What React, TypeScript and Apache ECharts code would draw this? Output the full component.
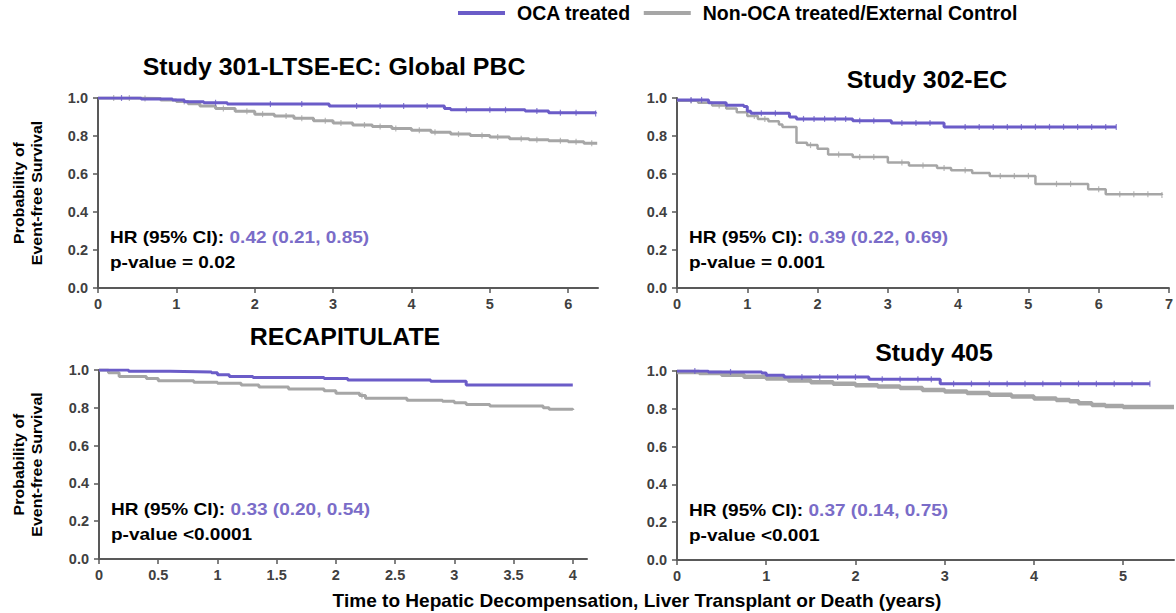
import React, { useEffect, useRef } from "react";
import * as echarts from "echarts";

const PURPLE = "#6B5CC8";
const PURPLE_TEXT = "#7A6CC8";
const GRAY = "#A6A6A6";
const AXIS = "#595959";
const LABEL = "#404040";
const FONT = "'Liberation Sans', Arial, sans-serif";

const seriesNames = ["OCA treated", "Non-OCA treated/External Control"];
const panelTitles = ["Study 301-LTSE-EC: Global PBC", "Study 302-EC", "RECAPITULATE", "Study 405"];
const hrValues = ["0.42 (0.21, 0.85)", "0.39 (0.22, 0.69)", "0.33 (0.20, 0.54)", "0.37 (0.14, 0.75)"];
const pValues = ["p-value = 0.02", "p-value = 0.001", "p-value <0.0001", "p-value <0.001"];
const xMax = [6.38, 7, 4.12, 5.57];
const xTicks = [
  [0, 1, 2, 3, 4, 5, 6],
  [0, 1, 2, 3, 4, 5, 6, 7],
  [0, 0.5, 1, 1.5, 2, 2.5, 3, 3.5, 4],
  [0, 1, 2, 3, 4, 5],
];
const yTicks = [0, 0.2, 0.4, 0.6, 0.8, 1.0];
const xAxisTitle = "Time to Hepatic Decompensation, Liver Transplant or Death (years)";
const yAxisTitle = "Probability of\nEvent-free Survival";

// Kaplan-Meier step curves: [time, survival after drop]
const s301Oca: [number, number][] = [
  [0, 1], [0.55, 0.995], [0.95, 0.99], [1.1, 0.98], [1.35, 0.975], [1.65, 0.968],
  [2.95, 0.958], [4.42, 0.945], [4.5, 0.938], [5.45, 0.932], [5.75, 0.922], [6.35, 0.918],
];
const s301Ctrl: [number, number][] = [
  [0, 1], [0.5, 0.998], [0.8, 0.99], [1.0, 0.982], [1.15, 0.97], [1.3, 0.958], [1.5, 0.945],
  [1.75, 0.93], [2.0, 0.915], [2.25, 0.905], [2.5, 0.893], [2.75, 0.88], [3.0, 0.868],
  [3.25, 0.858], [3.5, 0.85], [3.75, 0.84], [4.0, 0.83], [4.25, 0.82], [4.5, 0.81],
  [4.75, 0.803], [5.0, 0.795], [5.25, 0.786], [5.5, 0.78], [5.75, 0.775], [6.0, 0.77],
  [6.2, 0.762], [6.37, 0.76],
];
const s302Oca: [number, number][] = [
  [0, 0.99], [0.45, 0.975], [0.7, 0.962], [0.95, 0.955], [1.0, 0.93], [1.05, 0.92],
  [1.6, 0.9], [1.7, 0.89], [2.5, 0.88], [3.05, 0.868], [3.8, 0.848], [6.25, 0.848],
];
const s302Ctrl: [number, number][] = [
  [0, 0.985], [0.3, 0.975], [0.5, 0.96], [0.7, 0.945], [0.85, 0.925], [1.0, 0.905],
  [1.15, 0.89], [1.3, 0.877], [1.45, 0.86], [1.5, 0.848], [1.7, 0.765], [1.85, 0.752],
  [2.0, 0.733], [2.15, 0.703], [2.5, 0.69], [3.0, 0.66], [3.3, 0.645], [3.7, 0.632],
  [3.9, 0.62], [4.2, 0.605], [4.45, 0.59], [5.1, 0.548], [5.85, 0.52], [6.1, 0.494], [6.9, 0.49],
];
const recapOca: [number, number][] = [
  [0, 1], [0.25, 0.993], [0.6, 0.99], [0.95, 0.985], [1.0, 0.975], [1.1, 0.965], [1.3, 0.96],
  [1.9, 0.955], [2.1, 0.947], [2.8, 0.94], [3.1, 0.92], [4.0, 0.92],
];
const recapCtrl: [number, number][] = [
  [0, 1], [0.08, 0.985], [0.17, 0.965], [0.4, 0.955], [0.5, 0.943], [0.8, 0.935], [1.0, 0.93],
  [1.2, 0.92], [1.35, 0.91], [1.6, 0.9], [1.9, 0.89], [2.0, 0.877], [2.2, 0.865], [2.25, 0.85],
  [2.6, 0.84], [2.9, 0.835], [3.0, 0.827], [3.1, 0.818], [3.3, 0.81], [3.75, 0.8], [3.8, 0.792],
  [4.0, 0.788],
];
const s405Oca: [number, number][] = [
  [0, 1], [0.35, 0.995], [0.95, 0.99], [1.0, 0.977], [1.2, 0.968], [2.15, 0.956], [2.95, 0.933],
  [5.3, 0.933],
];
const s405Ctrl: [number, number][] = [
  [0, 0.995], [0.25, 0.99], [0.5, 0.98], [0.75, 0.97], [1.0, 0.96], [1.25, 0.95], [1.5, 0.94],
  [1.75, 0.932], [2.0, 0.925], [2.25, 0.918], [2.5, 0.91], [2.75, 0.9], [3.0, 0.892],
  [3.25, 0.883], [3.5, 0.875], [3.75, 0.865], [4.0, 0.855], [4.25, 0.847], [4.4, 0.84],
  [4.5, 0.83], [4.65, 0.82], [4.8, 0.815], [5.0, 0.81], [5.57, 0.81],
];

// Censoring times
const s301OcaCens = [0.3, 1.5, 2.2, 2.6, 3.3, 3.6, 3.9, 4.2, 4.7, 5.0, 5.2, 5.6, 5.9, 6.1, 6.35];
const s301CtrlCens = [0.2, 0.4, 0.6, 1.1, 1.6, 1.9, 2.1, 2.4, 2.6, 2.9, 3.1, 3.4, 3.6, 3.8, 4.1, 4.3, 4.6, 4.9, 5.1, 5.4, 5.6, 5.9, 6.1, 6.3];
const s302OcaCens = [0.2, 0.35, 1.2, 1.4, 1.8, 1.95, 2.1, 2.25, 2.4, 2.6, 2.8, 3.2, 3.4, 3.6, 4.1, 4.3, 4.5, 4.7, 4.9, 5.1, 5.3, 5.5, 5.7, 5.9, 6.1, 6.25];
const s302CtrlCens = [0.2, 0.6, 1.1, 1.25, 1.9, 2.3, 2.6, 2.8, 3.2, 3.5, 3.8, 4.1, 4.6, 4.8, 5.0, 5.4, 5.6, 6.0, 6.3, 6.5, 6.7, 6.9];
const recapOcaCens: number[] = [];
const recapCtrlCens = [2.22];
const s405OcaCens = [0.2, 0.6, 1.4, 1.6, 1.8, 2.0, 2.3, 2.5, 2.7, 2.85, 3.1, 3.3, 3.5, 3.7, 3.9, 4.1, 4.3, 4.5, 4.7, 4.9, 5.1, 5.3];
const s405CtrlCens: number[] = [];

const panels = [
  { oca: s301Oca, ctrl: s301Ctrl, ocaC: s301OcaCens, ctrlC: s301CtrlCens, ctrlW: 3 },
  { oca: s302Oca, ctrl: s302Ctrl, ocaC: s302OcaCens, ctrlC: s302CtrlCens, ctrlW: 2.5 },
  { oca: recapOca, ctrl: recapCtrl, ocaC: recapOcaCens, ctrlC: recapCtrlCens, ctrlW: 3 },
  { oca: s405Oca, ctrl: s405Ctrl, ocaC: s405OcaCens, ctrlC: s405CtrlCens, ctrlW: 4.5 },
];

const grids = [
  { left: 98, top: 98, width: 500, height: 190 },
  { left: 677, top: 98, width: 497, height: 190 },
  { left: 99, top: 370, width: 488, height: 189 },
  { left: 677, top: 371, width: 497, height: 189 },
];
const titlePos = [
  [334, 67],
  [927, 80],
  [345, 337],
  [934, 353],
];

function levelAt(curve: [number, number][], t: number): number {
  let v = curve[0][1];
  for (const [x, y] of curve) {
    if (x <= t) v = y;
  }
  return v;
}

export default function App() {
  const ref = useRef<HTMLDivElement>(null);
  useEffect(() => {
    if (!ref.current) return;
    const chart = echarts.init(ref.current, undefined, { renderer: "svg" });

    const xAxis = grids.map((_, i) => ({
      type: "value",
      gridIndex: i,
      min: 0,
      max: xMax[i],
      axisLine: { show: true, lineStyle: { color: AXIS, width: 2 } },
      axisTick: { show: true, length: 5, lineStyle: { color: AXIS, width: 1.5 }, customValues: xTicks[i] },
      axisLabel: {
        customValues: xTicks[i],
        color: LABEL,
        fontWeight: "bold",
        fontSize: 14.5,
        fontFamily: FONT,
        margin: 8,
        formatter: (v: number) => String(v),
      },
      splitLine: { show: false },
    }));
    const yAxis = grids.map((_, i) => ({
      type: "value",
      gridIndex: i,
      min: 0,
      max: 1,
      interval: 0.2,
      axisLine: { show: true, lineStyle: { color: AXIS, width: 2 } },
      axisTick: { show: true, length: 5, lineStyle: { color: AXIS, width: 1.5 }, customValues: yTicks },
      axisLabel: {
        customValues: yTicks,
        color: LABEL,
        fontWeight: "bold",
        fontSize: 14.5,
        fontFamily: FONT,
        margin: 10,
        formatter: (v: number) => v.toFixed(1),
      },
      splitLine: { show: false },
    }));

    const series: any[] = [];
    panels.forEach((p, i) => {
      series.push({
        type: "line",
        name: seriesNames[1],
        xAxisIndex: i,
        yAxisIndex: i,
        step: "end",
        data: p.ctrl,
        showSymbol: false,
        silent: true,
        lineStyle: { color: GRAY, width: p.ctrlW },
        itemStyle: { color: GRAY },
        z: 2,
      });
      series.push({
        type: "line",
        name: seriesNames[0],
        xAxisIndex: i,
        yAxisIndex: i,
        step: "end",
        data: p.oca,
        showSymbol: false,
        silent: true,
        lineStyle: { color: PURPLE, width: 3 },
        itemStyle: { color: PURPLE },
        z: 4,
      });
      series.push({
        type: "scatter",
        name: seriesNames[1],
        xAxisIndex: i,
        yAxisIndex: i,
        data: p.ctrlC.map((t) => [t, levelAt(p.ctrl, t)]),
        symbol: "rect",
        symbolSize: [1.2, 6],
        silent: true,
        itemStyle: { color: GRAY },
        z: 3,
      });
      series.push({
        type: "scatter",
        name: seriesNames[0],
        xAxisIndex: i,
        yAxisIndex: i,
        data: p.ocaC.map((t) => [t, levelAt(p.oca, t)]),
        symbol: "rect",
        symbolSize: [1.2, 6],
        silent: true,
        itemStyle: { color: PURPLE },
        z: 5,
      });
    });

    const graphics: any[] = [];
    titlePos.forEach(([x, y], i) => {
      graphics.push({
        type: "text",
        x,
        y,
        scaleX: 1.06,
        style: {
          text: panelTitles[i],
          align: "center",
          verticalAlign: "middle",
          font: `bold 23.5px ${FONT}`,
          fill: "#000",
        },
      });
    });
    grids.forEach((g, i) => {
      const tx = g.left + 12;
      const ty = g.top + 139;
      graphics.push({
        type: "text",
        x: tx,
        y: ty,
        scaleX: 1.12,
        style: {
          text: `{a|HR (95% CI): }{b|${hrValues[i]}}`,
          verticalAlign: "middle",
          rich: {
            a: { fontFamily: FONT, fontSize: 17, fontWeight: "bold", fill: "#000", color: "#000" },
            b: { fontFamily: FONT, fontSize: 17, fontWeight: "bold", fill: PURPLE_TEXT, color: PURPLE_TEXT },
          },
        },
      });
      graphics.push({
        type: "text",
        x: tx,
        y: ty + 25,
        scaleX: 1.12,
        style: {
          text: pValues[i],
          verticalAlign: "middle",
          font: `bold 17px ${FONT}`,
          fill: "#000",
        },
      });
    });
    [grids[0], grids[2]].forEach((g) => {
      graphics.push({
        type: "text",
        x: 28,
        y: g.top + g.height / 2,
        rotation: Math.PI / 2,
        scaleX: 1.1,
        style: {
          text: yAxisTitle,
          align: "center",
          verticalAlign: "middle",
          font: `bold 14.5px ${FONT}`,
          fill: "#000",
          lineHeight: 18,
        },
      });
    });
    graphics.push({
      type: "text",
      x: 637,
      y: 601,
      scaleX: 1.06,
      style: {
        text: xAxisTitle,
        align: "center",
        verticalAlign: "middle",
        font: `bold 18px ${FONT}`,
        fill: "#000",
      },
    });

    chart.setOption({
      animation: false,
      backgroundColor: "#fff",
      legend: {
        top: 3,
        left: 458,
        padding: 0,
        icon: "rect",
        itemWidth: 47,
        itemHeight: 4,
        itemGap: 13,
        selectedMode: false,
        data: [
          { name: seriesNames[0], itemStyle: { color: PURPLE } },
          { name: seriesNames[1], itemStyle: { color: GRAY } },
        ],
        textStyle: { fontFamily: FONT, fontSize: 19.5, fontWeight: "bold", color: "#000", padding: [0, 0, 0, 7] },
      },
      grid: grids.map((g) => ({ ...g, containLabel: false })),
      xAxis,
      yAxis,
      series,
      graphic: graphics,
    });
    return () => chart.dispose();
  }, []);
  return (
    <div
      ref={ref}
      style={{ position: "absolute", left: 0, top: 0, width: 1176, height: 613 }}
    />
  );
}
